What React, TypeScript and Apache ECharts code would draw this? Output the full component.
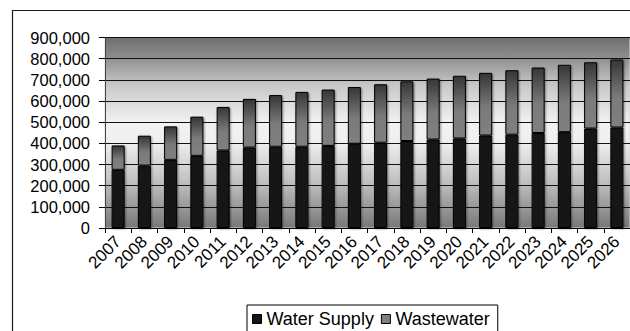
import React, { useEffect, useRef } from "react";
import * as echarts from "echarts";

const years = [
  "2007", "2008", "2009", "2010", "2011", "2012", "2013", "2014", "2015", "2016",
  "2017", "2018", "2019", "2020", "2021", "2022", "2023", "2024", "2025", "2026",
];
const waterSupply = [
  275000, 295000, 322000, 341000, 366000, 380000, 384000, 384000, 388000, 398000,
  403000, 411000, 418000, 423000, 437000, 441000, 449000, 453000, 470000, 475000,
];
const wastewater = [
  115000, 141000, 158000, 185000, 206000, 230000, 244000, 259000, 266000, 268000,
  276000, 282000, 288000, 296000, 296000, 304000, 309000, 318000, 313000, 321000,
];
const yTicks = { min: 0, max: 900000, interval: 100000 };

const FONT = "'Liberation Sans', Arial, sans-serif";

export default function App() {
  const ref = useRef<HTMLDivElement>(null);

  useEffect(() => {
    if (!ref.current) return;
    const chart = echarts.init(ref.current, undefined, { renderer: "svg" });

    const plotBg = new echarts.graphic.LinearGradient(0, 0, 0, 1, [
      { offset: 0, color: "#6e6e6e" },
      { offset: 0.1, color: "#8c8c8c" },
      { offset: 0.25, color: "#c8c8c8" },
      { offset: 0.45, color: "#f2f2f2" },
      { offset: 0.55, color: "#efefef" },
      { offset: 0.75, color: "#c2c2c2" },
      { offset: 1, color: "#787878" },
    ]);
    const wasteFill = new echarts.graphic.LinearGradient(0, 0, 0, 1, [
      { offset: 0, color: "#363636" },
      { offset: 0.55, color: "#7a7a7a" },
      { offset: 1, color: "#808080" },
    ]);

    chart.setOption({
      animation: false,
      backgroundColor: "#ffffff",
      textStyle: { fontFamily: FONT },
      graphic: [
        {
          type: "rect",
          z: -10,
          shape: { x: 12.5, y: 10.5, width: 700, height: 400 },
          style: { fill: "none", stroke: "#1a1a1a", lineWidth: 1.2 },
        },
      ],
      grid: {
        left: 105,
        top: 37.5,
        width: 537.6,
        height: 190.5,
        show: true,
        backgroundColor: plotBg,
        borderColor: "#d8d8d8",
        borderWidth: 1,
      },
      legend: {
        left: 247,
        top: 305,
        padding: [5, 8, 8, 5],
        itemWidth: 9,
        itemHeight: 9,
        itemGap: 7,
        icon: "rect",
        borderColor: "#000",
        borderWidth: 1,
        backgroundColor: "#fff",
        textStyle: { fontSize: 18, color: "#000", fontFamily: FONT },
        data: [
          { name: "Water Supply", itemStyle: { color: "#161616", borderColor: "#000", borderWidth: 1 } },
          { name: "Wastewater", itemStyle: { color: "#808080", borderColor: "#000", borderWidth: 1 } },
        ],
      },
      xAxis: {
        type: "category",
        data: years,
        axisLine: { lineStyle: { color: "#000", width: 1 } },
        axisTick: { show: true, length: 5, lineStyle: { color: "#000" } },
        axisLabel: {
          rotate: 45,
          interval: 0,
          fontSize: 17,
          color: "#000",
          margin: 11,
          fontFamily: FONT,
        },
      },
      yAxis: {
        type: "value",
        min: yTicks.min,
        max: yTicks.max,
        interval: yTicks.interval,
        axisLine: { show: true, lineStyle: { color: "#444", width: 1 } },
        axisTick: { show: true, length: 6, lineStyle: { color: "#000" } },
        axisLabel: {
          fontSize: 16.5,
          color: "#000",
          margin: 15,
          fontFamily: FONT,
          formatter: (v: number) => v.toLocaleString("en-US"),
        },
        splitLine: { lineStyle: { color: "#111", width: 1 } },
      },
      series: [
        {
          name: "Water Supply",
          type: "bar",
          stack: "total",
          barWidth: 13,
          data: waterSupply,
          itemStyle: {
            color: "#161616",
            borderColor: "#000",
            borderWidth: 1,
            shadowColor: "rgba(0,0,0,0.45)",
            shadowBlur: 2,
            shadowOffsetX: 1,
            shadowOffsetY: 1,
          },
        },
        {
          name: "Wastewater",
          type: "bar",
          stack: "total",
          barWidth: 13,
          data: wastewater,
          itemStyle: {
            color: wasteFill,
            borderColor: "#000",
            borderWidth: 1,
            shadowColor: "rgba(0,0,0,0.45)",
            shadowBlur: 2,
            shadowOffsetX: 1,
            shadowOffsetY: 1,
          },
        },
      ],
    });

    return () => chart.dispose();
  }, []);

  return (
    <div
      ref={ref}
      style={{ position: "fixed", left: 0, top: 0, width: 630, height: 331 }}
    />
  );
}
